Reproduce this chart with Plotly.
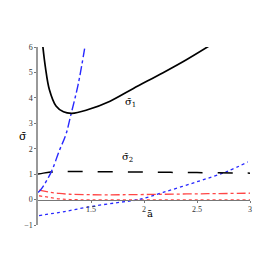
import plotly.graph_objects as go

# sigma_1 (black solid)
s1_x = [1.045, 1.07, 1.107, 1.17, 1.24, 1.32, 1.46, 1.68, 1.90, 2.18, 2.40, 2.61]
s1_y = [6.05, 5.2, 4.33, 3.68, 3.45, 3.39, 3.52, 3.87, 4.37, 4.99, 5.5, 6.03]
# sigma_2 (black long dash)
s2_x = [1.0, 1.05, 1.12, 1.2, 1.5, 2.0, 2.5, 3.0]
s2_y = [1.0, 1.04, 1.08, 1.1, 1.1, 1.08, 1.06, 1.04]
# blue dash-dot
bd_x = [1.0, 1.03, 1.123, 1.20, 1.264, 1.311, 1.38, 1.446]
bd_y = [0.28, 0.41, 1.07, 1.91, 2.57, 3.35, 4.55, 6.1]
# red dash-dot
rd_x = [1.01, 1.1, 1.2, 1.3, 1.5, 1.8, 2.2, 2.6, 3.0]
rd_y = [0.37, 0.3, 0.24, 0.21, 0.19, 0.19, 0.21, 0.23, 0.25]
# red dotted
ro_x = [1.01, 1.1, 1.2, 1.3, 1.5, 2.0, 2.5, 3.0]
ro_y = [0.15, 0.09, 0.03, 0.0, -0.01, -0.01, -0.01, -0.01]
# blue dotted
bo_x = [1.01, 1.25, 1.49, 1.75, 1.95, 2.18, 2.5, 2.78, 2.98]
bo_y = [-0.63, -0.47, -0.28, -0.12, 0.0, 0.28, 0.70, 1.1, 1.48]

x_ticks = [1.5, 2, 2.5, 3]
x_tick_text = ["1.5", "2", "2.5", "3"]
y_ticks = [-1, 0, 1, 2, 3, 4, 5, 6]

BLUE = "rgb(40,40,255)"
RED = "rgb(255,70,70)"

fig = go.Figure()
fig.add_trace(go.Scatter(x=rd_x, y=rd_y, mode="lines", line=dict(color=RED, width=1.3, dash="dashdot", shape="spline")))
fig.add_trace(go.Scatter(x=ro_x, y=ro_y, mode="lines", line=dict(color=RED, width=1.3, dash="dot", shape="spline")))
fig.add_trace(go.Scatter(x=bo_x, y=bo_y, mode="lines", line=dict(color=BLUE, width=1.3, dash="dot", shape="spline")))
fig.add_trace(go.Scatter(x=s2_x, y=s2_y, mode="lines", line=dict(color="black", width=1.5, dash="longdash", shape="spline")))
fig.add_trace(go.Scatter(x=bd_x, y=bd_y, mode="lines", line=dict(color=BLUE, width=1.4, dash="dashdot", shape="spline")))
fig.add_trace(go.Scatter(x=s1_x, y=s1_y, mode="lines", line=dict(color="black", width=1.7, shape="spline")))

font = dict(family="Liberation Serif", size=8, color="#333")
lab = dict(family="DejaVu Serif", size=10, color="black")

fig.update_layout(
    width=265, height=265,
    margin=dict(l=30, r=23, t=39, b=47.5),
    paper_bgcolor="white", plot_bgcolor="white",
    showlegend=False,
    xaxis=dict(range=[1, 3], showgrid=False, zeroline=False, showline=True,
               linecolor="#777", linewidth=1, anchor="free", position=1/7,
               tickvals=x_ticks, ticktext=x_tick_text, ticks="outside",
               ticklen=2, tickcolor="#777", tickfont=font),
    yaxis=dict(range=[-1, 6], showgrid=False, zeroline=False, showline=True,
               linecolor="#999", linewidth=1.5, tickvals=y_ticks,
               ticks="outside", ticklen=2, tickcolor="#777", tickfont=font),
    annotations=[
        dict(x=1.868, y=3.82, text="σ̄<sub>1</sub>", showarrow=False, font=lab),
        dict(x=1.84, y=1.67, text="σ̄<sub>2</sub>", showarrow=False, font=lab),
        dict(x=-0.099, y=0.5, xref="paper", yref="paper", text="σ̄", showarrow=False,
             font=dict(family="DejaVu Serif", size=11, color="black")),
        dict(x=2.057, y=-0.55, text="ā", showarrow=False, font=lab),
    ],
)

fig.write_html("out.html")
